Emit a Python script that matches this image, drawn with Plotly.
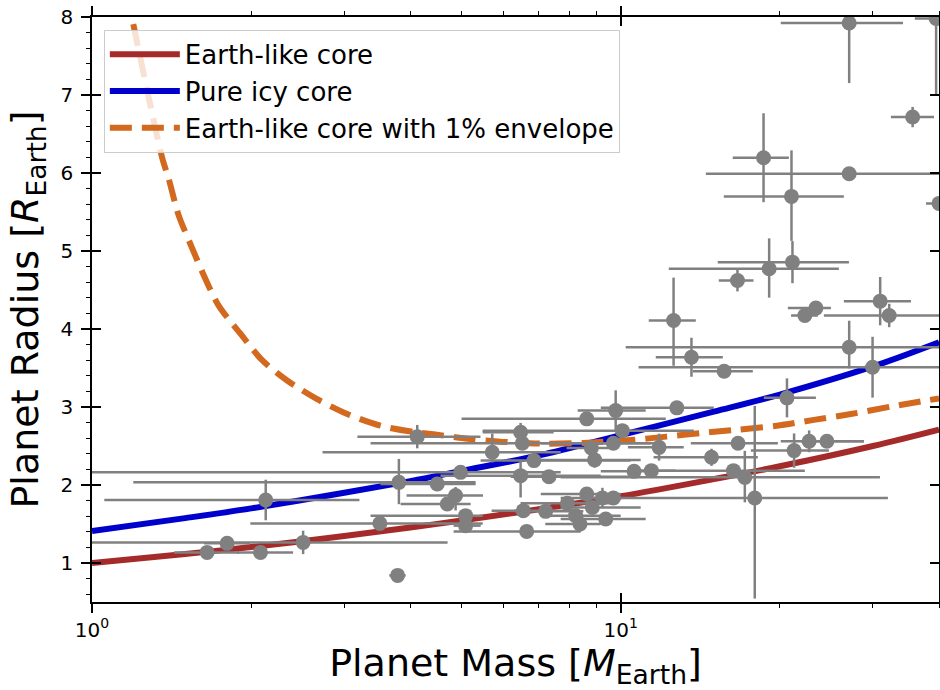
import plotly.graph_objects as go

# --- model curves (mass in Earth masses, radius in Earth radii) ---
core_mass = [1, 1.5, 2, 3, 4, 5, 7, 10, 15, 20, 30, 40]
earth_core_radius = [1.00, 1.115, 1.205, 1.345, 1.455, 1.545, 1.69, 1.855, 2.075, 2.24, 2.50, 2.71]
icy_core_radius = [1.41, 1.575, 1.70, 1.90, 2.05, 2.18, 2.38, 2.64, 2.94, 3.16, 3.52, 3.83]

envelope_mass = [1.197, 1.357, 1.396, 1.458, 1.535, 1.627, 1.736, 1.909, 2.098, 2.339,
                 2.666, 3.039, 3.514, 4.061, 4.426, 5.200, 6.110, 7.146, 8.51, 10.6,
                 12.2, 14.17, 16.7, 19.74, 23.2, 27.25, 32.4, 40]
envelope_radius = [7.91, 6.20, 5.93, 5.46, 5.09, 4.69, 4.30, 3.94, 3.60, 3.34,
                   3.10, 2.91, 2.76, 2.68, 2.65, 2.59, 2.55, 2.53, 2.54, 2.58,
                   2.62, 2.665, 2.71, 2.76, 2.835, 2.91, 3.005, 3.11]

# --- measured planets: mass with lower/upper bound, radius with errors ---
planet_mass = [1.651, 1.801, 2.083, 2.508, 2.131, 3.503, 3.785, 3.806, 4.123, 4.498,
               4.978, 4.872, 4.699, 5.089, 5.089, 5.716, 6.467, 6.515, 6.855, 6.467,
               7.316, 6.544, 7.211, 6.640, 8.625, 9.784, 10.07, 9.687, 8.80, 8.927,
               10.6, 7.928, 8.625, 8.84, 9.235, 9.687, 9.368, 8.375, 8.218, 12.77,
               11.82, 16.67, 14.85, 11.43, 16.34, 17.17, 17.93, 21.28, 22.72, 24.55,
               20.63, 12.59, 13.61, 15.69, 16.63, 19.09, 21.13, 22.3, 23.4, 30.96,
               32.2, 27.05, 29.95, 27.05, 39.5, 35.66, 18.63, 27.05, 21.04, 40.0]
planet_mass_low = [1.43, 1.63, 1.881, 0.9, 1.055, 1.993, 3.65, 1.197, 3.177, 3.513,
                   0.9, 3.935, 3.834, 3.364, 4.830, 2.729, 5.482, 3.364, 5.433, 4.562,
                   6.194, 5.700, 6.3, 4.830, 5.0, 8.29, 5.48, 7.06, 7.9, 7.06,
                   9.17, 6.467, 7.06, 7.70, 8.37, 9.17, 7.70, 7.2, 7.06, 9.17,
                   10.32, 13.57, 11.54, 10.44, 10.91, 7.70, 7.70, 17.63, 20.08, 21.9,
                   18.65, 11.30, 11.65, 13.69, 15.33, 12.33, 15.26, 21.0, 20.71, 26.43,
                   24.23, 10.22, 10.81, 20.08, 36.0, 32.44, 16.29, 14.49, 15.67, 37.8]
planet_mass_high = [1.90, 1.99, 2.401, 4.705, 3.205, 5.483, 3.92, 5.316, 5.43, 5.316,
                    7.70, 5.49, 5.202, 5.483, 5.435, 7.70, 7.467, 11.40, 10.44, 9.167,
                    10.91, 8.149, 8.5, 8.40, 12.17, 11.15, 13.75, 11.9, 9.8, 10.91,
                    11.4, 9.576, 10.0, 10.91, 10.0, 10.0, 11.15, 9.17, 10.0, 15.0,
                    13.16, 19.83, 18.17, 12.7, 22.3, 30.93, 32.02, 24.76, 28.84, 28.84,
                    23.4, 13.87, 15.6, 17.78, 17.83, 25.86, 27.02, 23.6, 24.98, 35.4,
                    45.0, 50.0, 50.0, 34.19, 43.0, 39.13, 20.80, 50.0, 26.43, 45.0]
planet_radius = [1.136, 1.252, 1.136, 1.264, 1.808, 1.508, 0.841, 2.034, 2.620, 2.014,
                 2.162, 1.864, 1.757, 1.607, 1.479, 2.419, 2.676, 2.535, 2.313, 2.120,
                 2.107, 1.671, 1.662, 1.405, 2.848, 2.954, 2.697, 2.535, 2.475, 2.322,
                 2.175, 1.765, 1.885, 1.713, 1.834, 1.834, 1.565, 1.500, 1.607, 2.989,
                 2.483, 2.535, 2.355, 2.184, 2.184, 2.098, 1.834, 2.441, 2.560, 2.560,
                 3.117, 4.109, 3.638, 3.458, 4.622, 4.772, 4.857, 4.173, 4.268, 4.357,
                 4.173, 3.766, 3.510, 7.923, 7.98, 6.717, 6.196, 5.991, 5.700, 5.610]
radius_err_low = [0.05, 0.05, 0.05, 0.15, 0.26, 0.05, 0.03, 0.28, 0.15, 0.05,
                  0.05, 0.19, 0.05, 0.05, 0.05, 0.13, 0.10, 0.05, 0.05, 0.28,
                  0.05, 0.05, 0.05, 0.05, 0.05, 0.26, 0.05, 0.05, 0.05, 0.10,
                  0.05, 0.05, 0.18, 0.05, 0.13, 0.05, 0.05, 0.10, 0.05, 0.05,
                  0.17, 0.05, 0.11, 0.05, 0.05, 0.32, 1.29, 0.22, 0.14, 0.05,
                  0.25, 0.58, 0.25, 0.05, 0.14, 0.37, 0.27, 0.05, 0.05, 0.31,
                  0.15, 0.27, 0.39, 0.77, 0.99, 0.13, 0.57, 0.05, 0.57, 0.05]
radius_err_high = [0.05, 0.05, 0.05, 0.15, 0.26, 0.05, 0.03, 0.30, 0.15, 0.05,
                   0.05, 0.11, 0.05, 0.05, 0.05, 0.24, 0.12, 0.05, 0.05, 0.20,
                   0.05, 0.05, 0.05, 0.05, 0.05, 0.26, 0.05, 0.05, 0.05, 0.15,
                   0.05, 0.05, 0.08, 0.05, 0.13, 0.05, 0.05, 0.10, 0.05, 0.05,
                   0.175, 0.05, 0.11, 0.05, 0.05, 0.34, 1.18, 0.22, 0.14, 0.05,
                   0.25, 0.55, 0.25, 0.05, 0.14, 0.39, 0.27, 0.05, 0.05, 0.31,
                   0.15, 0.34, 0.39, 0.30, 0.50, 0.13, 0.57, 0.05, 0.59, 0.05]

x_tick_vals = [1, 10]
x_tick_text = ["10<sup>0</sup>", "10<sup>1</sup>"]
x_minor_vals = [2, 3, 4, 5, 6, 7, 8, 9, 20, 30, 40]
y_tick_vals = [1, 2, 3, 4, 5, 6, 7, 8]

FONT = "DejaVu Sans"
GREY = "#808080"

fig = go.Figure()

fig.add_trace(go.Scatter(
    x=core_mass, y=earth_core_radius, mode="lines", name="Earth-like core",
    line=dict(color="#a52a2a", width=6, shape="spline"),
))
fig.add_trace(go.Scatter(
    x=core_mass, y=icy_core_radius, mode="lines", name="Pure icy core",
    line=dict(color="#0000cd", width=6, shape="spline"),
))
fig.add_trace(go.Scatter(
    x=envelope_mass, y=envelope_radius, mode="lines",
    name="Earth-like core with 1% envelope",
    line=dict(color="#d2691e", width=6, dash="22px,10px", shape="spline", smoothing=0.8),
))

fig.add_trace(go.Scatter(
    x=planet_mass, y=planet_radius, mode="markers", showlegend=False,
    marker=dict(color=GREY, size=15, line=dict(width=0)),
    error_x=dict(type="data", symmetric=False,
                 array=[h - m for h, m in zip(planet_mass_high, planet_mass)],
                 arrayminus=[m - l for m, l in zip(planet_mass, planet_mass_low)],
                 color=GREY, thickness=2.5, width=0),
    error_y=dict(type="data", symmetric=False,
                 array=radius_err_high, arrayminus=radius_err_low,
                 color=GREY, thickness=2.5, width=0),
))

# empty trace that anchors the overlay axes carrying the inward ticks
fig.add_trace(go.Scatter(x=[None], y=[None], xaxis="x2", yaxis="y2",
                         showlegend=False, hoverinfo="skip"))

x_range = [0, 1.60206]
y_range = [0.5, 8]
tick_font = dict(family=FONT, size=20, color="black")

fig.update_layout(
    width=940, height=690,
    margin=dict(l=92, r=1, t=17, b=88, autoexpand=False),
    paper_bgcolor="white", plot_bgcolor="white",
    font=dict(family=FONT, color="black"),
    showlegend=True,
    legend=dict(
        x=0.014, y=0.978, xanchor="left", yanchor="top",
        bgcolor="rgba(255,255,255,0.8)", bordercolor="#cccccc", borderwidth=1,
        font=dict(family=FONT, size=26, color="black"),
        itemwidth=70, tracegroupgap=0,
    ),
    xaxis=dict(
        type="log", range=x_range, automargin=False,
        tickmode="array", tickvals=x_tick_vals, ticktext=x_tick_text,
        ticks="outside", ticklen=9, tickwidth=1.5, tickcolor="black",
        showline=True, linewidth=1.5, linecolor="black", mirror="ticks",
        showgrid=False, zeroline=False, tickfont=tick_font,
        minor=dict(tickmode="array", tickvals=x_minor_vals, ticks="outside",
                   ticklen=4, tickwidth=1.2, tickcolor="black", showgrid=False),
        title=dict(text="Planet Mass [<i>M</i><sub>Earth</sub>]",
                   font=dict(family=FONT, size=38, color="black"), standoff=8),
    ),
    yaxis=dict(
        range=y_range, automargin=False,
        tickmode="array", tickvals=y_tick_vals,
        ticks="outside", ticklen=9, tickwidth=1.5, tickcolor="black",
        showline=True, linewidth=1.5, linecolor="black", mirror="ticks",
        showgrid=False, zeroline=False, tickfont=tick_font, ticklabelstandoff=4,
        minor=dict(dtick=0.2, tick0=0, ticks="outside", ticklen=4,
                   tickwidth=1.2, tickcolor="black", showgrid=False),
        title=dict(text="Planet Radius [<i>R</i><sub>Earth</sub>]",
                   font=dict(family=FONT, size=38, color="black"), standoff=10),
    ),
    xaxis2=dict(
        type="log", range=x_range, overlaying="x", anchor="y", automargin=False,
        tickmode="array", tickvals=x_tick_vals, showticklabels=False,
        ticks="inside", ticklen=9, tickwidth=1.5, tickcolor="black",
        mirror="ticks", showline=False, showgrid=False, zeroline=False,
    ),
    yaxis2=dict(
        range=y_range, overlaying="y", anchor="x", automargin=False,
        tickmode="array", tickvals=y_tick_vals, showticklabels=False,
        ticks="inside", ticklen=9, tickwidth=1.5, tickcolor="black",
        mirror="ticks", showline=False, showgrid=False, zeroline=False,
    ),
)

fig.write_html("out.html")
